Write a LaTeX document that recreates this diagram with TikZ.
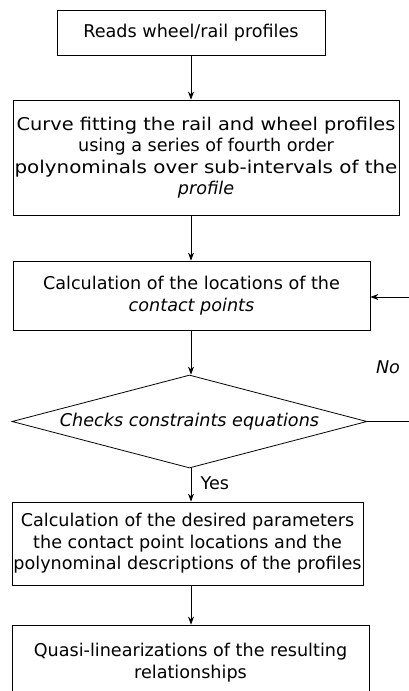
\documentclass[tikz,border=0pt]{standalone}
\usepackage{graphicx}
\usepackage{fontspec}
\setmainfont{DejaVu Sans}
\usetikzlibrary{shapes.geometric,arrows.meta}
\begin{document}
\begin{tikzpicture}[x=1pt,y=-1pt,
  every node/.style={font=\fontsize{17.6}{21.5}\selectfont},
  box/.style={draw,line width=0.8pt,align=center,inner sep=0pt},
  conn/.style={line width=0.8pt,-{Stealth[length=8pt,width=6pt]}}]
\useasboundingbox (0,0) rectangle (409,691);
\node[box,minimum width=268,minimum height=45] (b1) at (191,32.5) {Reads wheel/rail profiles};
\node[box,minimum width=386,minimum height=115] (b2) at (206,157.5) {\scalebox{1.1}[1]{Curve fitting the rail and wheel profiles}\\using a series of fourth order\\\scalebox{1.13}[1]{polynominals over sub-intervals of the}\\\textit{profile}};
\node[box,minimum width=357,minimum height=69] (b3) at (191.5,295.5) {Calculation of the locations of the\\\textit{contact points}};
\node[draw,line width=0.8pt,diamond,aspect=3.8,minimum width=355,minimum height=93,inner sep=0pt] (d) at (189.5,421.5) {\textit{Checks constraints equations}};
\node[box,minimum width=351,minimum height=83] (b4) at (187.5,543.5) {Calculation of the desired parameters\\the contact point locations and the\\polynominal descriptions of the profiles};
\node[box,minimum width=357,minimum height=75] (b5) at (190.5,662.5) {Quasi-linearizations of the resulting\\relationships};
\coordinate (ax) at (191,0);
\draw[conn] (b1.south -| ax) -- (b2.north -| ax);
\draw[conn] (b2.south -| ax) -- (b3.north -| ax);
\draw[conn] (b3.south -| ax) -- (d.north -| ax);
\draw[conn] (d.south -| ax) -- node[right=6pt,pos=0.45] (yes) {Yes} (b4.north -| ax);
\draw[conn] (b4.south -| ax) -- (b5.north -| ax);
\coordinate (r1) at (414,421.5);
\coordinate (r2) at (414,297);
\draw[conn] (d.east) -- (r1) -- (r2) -- (b3.east |- r2);
\node (no) at (388,367) {\textit{No}};
\end{tikzpicture}
\end{document}
